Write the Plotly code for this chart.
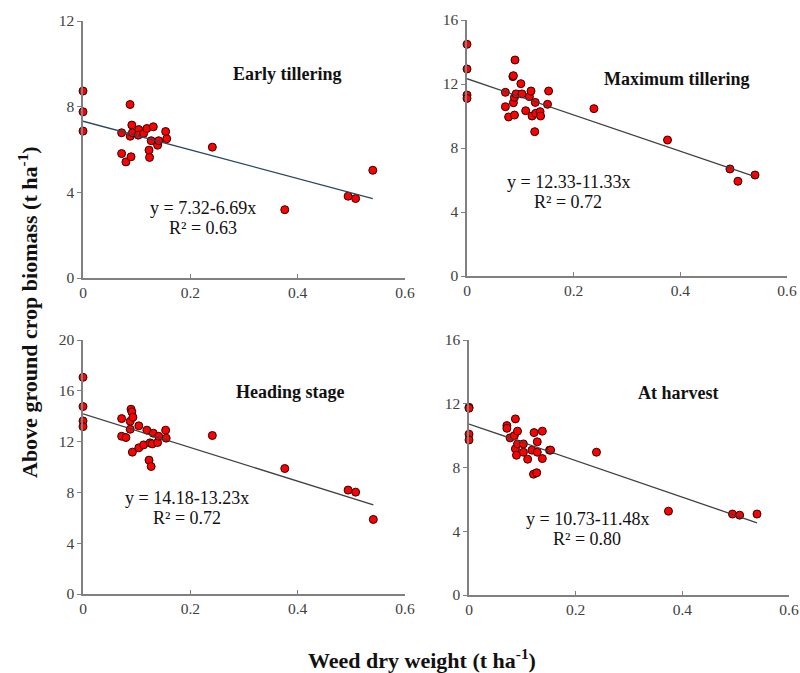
import numpy as np
import plotly.graph_objects as go

W, H = 800, 673

# ---------------- data ----------------
p1_x = [0, 0, 0, 0.0877, 0.072, 0.072, 0.080, 0.0895, 0.088, 0.091, 0.092, 0.104, 0.103,
        0.113, 0.119, 0.131, 0.127, 0.123, 0.124, 0.139, 0.141, 0.154, 0.156,
        0.241, 0.376, 0.494, 0.508, 0.540]
p1_y = [8.73, 7.76, 6.86, 8.10, 6.78, 5.81, 5.42, 5.66, 6.62, 7.14, 6.78, 6.93, 6.67,
        6.75, 6.98, 7.06, 6.41, 5.97, 5.63, 6.20, 6.41, 6.84, 6.50,
        6.11, 3.19, 3.82, 3.71, 5.03]

p2_x = [0, 0, 0, 0, 0.072, 0.072, 0.078, 0.086, 0.087, 0.090, 0.087, 0.089, 0.092, 0.089,
        0.101, 0.103, 0.110, 0.117, 0.120, 0.122, 0.127, 0.128, 0.129, 0.137, 0.138,
        0.151, 0.153, 0.238, 0.376, 0.493, 0.508, 0.540]
p2_y = [14.48, 12.94, 11.31, 11.10, 11.48, 10.58, 9.94, 12.46, 12.52, 13.50, 10.83, 11.17, 11.38, 10.06,
        12.02, 11.38, 10.33, 11.21, 11.56, 10.00, 9.02, 10.85, 10.17, 10.27, 10.00,
        10.73, 11.56, 10.46, 8.50, 6.69, 5.92, 6.31]

p3_x = [0, 0, 0, 0, 0.072, 0.072, 0.080, 0.088, 0.088, 0.0895, 0.091, 0.093, 0.092,
        0.104, 0.104, 0.113, 0.119, 0.123, 0.127, 0.125, 0.129, 0.131, 0.139, 0.141,
        0.154, 0.155, 0.241, 0.376, 0.494, 0.508, 0.541]
p3_y = [17.06, 14.76, 13.63, 13.18, 13.81, 12.42, 12.32, 12.97, 13.60, 14.55, 14.34, 13.92, 11.17,
        13.24, 11.51, 11.74, 12.90, 10.54, 10.04, 11.90, 11.82, 12.66, 11.93, 12.42,
        12.90, 12.27, 12.48, 9.88, 8.18, 8.02, 5.87]

p4_x = [0, 0, 0, 0, 0.071, 0.071, 0.077, 0.085, 0.087, 0.087, 0.089, 0.091, 0.091,
        0.102, 0.102, 0.110, 0.118, 0.121, 0.122, 0.127, 0.128, 0.128, 0.1375, 0.1375,
        0.151, 0.153, 0.239, 0.374, 0.494, 0.5075, 0.540]
p4_y = [11.78, 11.72, 10.09, 9.73, 10.63, 10.46, 9.86, 10.00, 11.05, 9.17, 8.77, 10.28, 9.48,
        9.48, 8.96, 8.52, 9.09, 7.58, 10.19, 7.67, 9.61, 8.96, 10.28, 8.56,
        9.09, 9.09, 8.96, 5.26, 5.08, 5.01, 5.08]

stages = ["Early tillering", "Maximum tillering", "Heading stage", "At harvest"]
intercepts = [7.32, 12.33, 14.18, 10.73]
slopes = [-6.69, -11.33, -13.23, -11.48]
r2 = ["0.63", "0.72", "0.72", "0.80"]
y_max = [12, 16, 20, 16]
x_ticks = [0, 0.2, 0.4, 0.6]

xs = [p1_x, p2_x, p3_x, p4_x]
ys = [p1_y, p2_y, p3_y, p4_y]

# ---------------- layout geometry (pixels) ----------------
# (left, right, top, bottom) of each plot area
boxes = [(83, 405, 21, 278), (467, 787, 20, 276), (83, 405, 340, 594), (469, 789, 340, 595)]
title_pos = [(287, 74), (676, 79), (290, 392), (678, 393)]
eq_pos = [(203, 208), (568, 182), (187, 498), (587, 519)]
line_colors = ["#2B4760", "#404040", "#404040", "#404040"]

def px(x):
    return x / W

def py(y):
    return 1 - y / H

serif = "Liberation Serif"
fig = go.Figure()
annotations = []

def note(x, y, text, size, angle=0):
    annotations.append(dict(x=px(x), y=py(y), xref="paper", yref="paper",
                            xanchor="center", yanchor="middle", text=text,
                            showarrow=False, textangle=angle,
                            font=dict(family=serif, size=size, color="#111111")))

for i in range(4):
    ax = "" if i == 0 else str(i + 1)
    l, r, t, b = boxes[i]
    fig.add_trace(go.Scatter(
        x=xs[i], y=ys[i], mode="markers", xaxis="x" + ax, yaxis="y" + ax,
        marker=dict(size=8, color="#FF0000", line=dict(color="#300000", width=1)),
        cliponaxis=False, showlegend=False, hoverinfo="x+y"))
    xmax = max(xs[i])
    lx = np.array([0.0, xmax])
    ly = intercepts[i] + slopes[i] * lx
    fig.add_trace(go.Scatter(
        x=lx, y=ly, mode="lines", xaxis="x" + ax, yaxis="y" + ax,
        line=dict(color=line_colors[i], width=1.3), showlegend=False, hoverinfo="skip"))

    axis_common = dict(showgrid=False, zeroline=False, showline=True, automargin=False,
                       linecolor="#808080", linewidth=1.5, ticklen=4, tickwidth=1.2,
                       tickcolor="#808080",
                       tickfont=dict(family=serif, size=15.5, color="#404040"))
    fig.update_layout(**{
        "xaxis" + ax: dict(domain=[px(l), px(r)], range=[0, 0.6], tickvals=x_ticks,
                           ticktext=["0", "0.2", "0.4", "0.6"], ticks="inside",
                           anchor="y" + ax, **axis_common),
        "yaxis" + ax: dict(domain=[py(b), py(t)], range=[0, y_max[i]], dtick=4,
                           ticks="outside", anchor="x" + ax, **axis_common),
    })

    tx, ty = title_pos[i]
    note(tx, ty, "<b>" + stages[i] + "</b>", 18)
    ex, ey = eq_pos[i]
    note(ex, ey, "y = %.2f-%.2fx" % (intercepts[i], -slopes[i]), 18)
    note(ex, ey + 20, "R² = " + r2[i], 18)

note(422, 659, "<b>Weed dry weight (t ha<sup>-1</sup>)</b>", 22)
note(28, 312, "<b>Above ground crop biomass (t ha<sup>-1</sup>)</b>", 22, -90)

fig.update_layout(width=W, height=H, margin=dict(l=0, r=0, t=0, b=0, autoexpand=False),
                  paper_bgcolor="white", plot_bgcolor="white",
                  annotations=annotations, showlegend=False)

fig.write_html("out.html")
